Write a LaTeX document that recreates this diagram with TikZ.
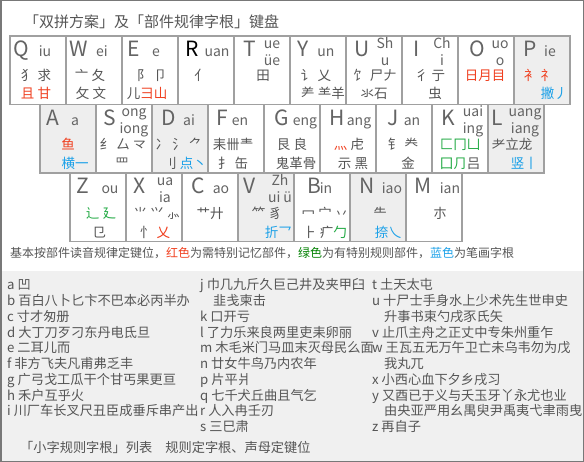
\documentclass[tikz,border=0pt]{standalone}
\usepackage{fontspec}
\setmainfont{Noto Sans CJK SC}
\usetikzlibrary{positioning}
\definecolor{kbInk}{RGB}{85,85,85}
\definecolor{kbLetter}{RGB}{100,100,100}
\definecolor{kbBorder}{RGB}{160,160,160}
\definecolor{kbShade}{RGB}{238,238,238}
\definecolor{kbRed}{RGB}{240,64,32}
\definecolor{kbGreen}{RGB}{34,170,68}
\definecolor{kbBlue}{RGB}{26,160,232}
\definecolor{kbDkGreen}{RGB}{0,128,0}
\definecolor{kbFrame}{RGB}{120,120,120}
\definecolor{kbPanel}{RGB}{240,240,240}

\begin{document}
\begin{tikzpicture}[x=1pt,y=-1pt,
    keybox/.style={draw=kbBorder, line width=1.3pt, minimum width=56pt,
                   minimum height=68.5pt, inner sep=0pt},
    keyletter/.style={anchor=base, inner sep=0pt, font=\fontsize{21}{21}\selectfont\color{kbLetter}},
    fin/.style={anchor=base, inner sep=0pt, font=\fontsize{14}{14}\selectfont\color{kbLetter}},
    comp/.style={anchor=base, inner sep=0pt, font=\fontsize{13.5}{13.5}\selectfont\color{kbInk}},
    lst/.style={anchor=base west, inner sep=0pt, font=\fontsize{13.2}{13.2}\selectfont\color{kbInk}},
    note/.style={anchor=base west, inner sep=0pt, font=\fontsize{12}{12}\selectfont\color{kbInk}}
  ]
  \useasboundingbox (0,0) rectangle (584,462);
  \fill[kbPanel] (0,271) rectangle (584,462);
  \draw[kbFrame, line width=1.5pt] (0.75,0.75) rectangle (583.25,461.25);

  \node[anchor=base west, inner sep=0pt, font=\fontsize{15}{15}\selectfont\color{kbInk}]
    (title) at (24,27.5) {「双拼方案」及「部件规律字根」键盘};

  % keys: name/left/top/fill/letter x/letter/final x/final base/final line 1/final line 2
  \foreach \n/\x/\y/\f/\lx/\l/\fx/\fy/\fa/\fb in {
      Q/10/36/white/11/Q/35/21/iu/{}, W/66/36/white/13/W/36/21/ei/{},
      E/122/36/white/12/E/34/21/e/{}, R/178/36/white/14/{\color{black}R}/39/21/uan/{},
      T/234/36/white/16/T/38/12.5/ue/üe, Y/290/36/white/13/Y/36/21/un/{},
      U/346/36/white/16/U/39/12.5/Sh/u, I/402/36/white/15/I/40/12.5/Ch/i,
      O/458/36/white/19/O/42/12.5/uo/o, P/514/36/kbShade/16/P/36/21/ie/{},
      A/40/104.5/kbShade/13/A/35/21/a/{}, S/96/104.5/white/14/S/38/12.5/ong/iong,
      D/152/104.5/kbShade/17/D/37/21/ai/{}, F/208/104.5/white/14/F/32/21/en/{},
      G/264/104.5/white/18/G/41/21/eng/{}, H/320/104.5/white/17/H/39/21/ang/{},
      J/376/104.5/white/17/J/36/21/an/{}, K/432/104.5/white/16/K/41/12.5/uai/ing,
      L/488/104.5/kbShade/9/L/37/12.5/uang/iang,
      Z/70/173/white/13/Z/40/21/ou/{}, X/126/173/white/14/X/39/12.5/ua/ia,
      C/182/173/white/16/C/39/21/ao/{}, V/238/173/kbShade/12/V/42/12.5/Zh/{ui ü},
      B/294/173/white/20/B/32/21/in/{}, N/350/173/kbShade/17/N/42/21/iao/{},
      M/406/173/white/17/M/44/21/ian/{}}{
    \node[keybox, fill=\f] (k\n) at (\x+28,\y+34.25) {};
    \node[keyletter] (c\n) at (\x+\lx,\y+21) {\l};
    \node[fin] (f\n) at (\x+\fx,\y+\fy) {\fa};
    \node[fin] (g\n) at (\x+\fx,\y+\fy+17) {\fb};
  }

  % row 1 roots
  \node[comp] (q1) at (36,81) {犭 求};
  \node[comp,color=kbRed] (q2) at (36,99) {且 甘};
  \node[comp] (w1) at (90,81) {亠 夂};
  \node[comp] (w2) at (91,99) {攵 文};
  \node[comp] (e1) at (152,81) {阝 卩};
  \node[comp] (e2) at (147,99) {儿\textcolor{kbRed}{彐山}};
  \node[comp] (r1) at (201,81) {亻};
  \node[comp] (t1) at (263,81) {田};
  \node[comp] (y1) at (316,81) {讠 乂};
  \node[comp] (y2) at (323,99) {⺶ ⺷羊};
  \node[comp] (u1) at (375,81) {饣 尸𠂇};
  \node[comp] (u2) at (374,99) {氺石};
  \node[comp] (i1) at (430,81) {彳 亍};
  \node[comp] (i2) at (435,99) {虫};
  \node[comp,color=kbRed] (o1) at (485,81) {日月目};
  \node[comp,color=kbRed] (p1) at (539,81) {衤 礻};
  \node[comp,color=kbBlue,anchor=base east] (p2) at (568,99) {撇丿};

  % row 2 roots
  \node[comp,color=kbRed] (a1) at (68,150) {鱼};
  \node[comp,color=kbBlue] (a2) at (75,169) {横一};
  \node[comp] (s1) at (123,150) {纟 厶 龴};
  \node[comp] (s2) at (122,169) {罒};
  \node[comp] (d1) at (179,150) {冫 氵 ⺈};
  \node[comp,anchor=base east] (d2) at (207,169) {刂 \textcolor{kbBlue}{点丶}};
  \node[comp] (f1) at (233,150) {耒卌龶};
  \node[comp] (f2) at (233,169) {扌 缶};
  \node[comp] (g1) at (292,150) {艮 良};
  \node[comp] (g2) at (296,169) {鬼革骨};
  \node[comp] (h1) at (349,150) {\textcolor{kbRed}{灬} 虍};
  \node[comp] (h2) at (353,169) {示 黑};
  \node[comp] (j1) at (403,150) {钅 龹};
  \node[comp] (j2) at (408,169) {金};
  \node[comp,color=kbGreen] (k1) at (460,150) {匚冂凵};
  \node[comp] (k2) at (460,169) {\textcolor{kbGreen}{囗⺆}吕};
  \node[comp] (l1) at (512,150) {耂立龙};
  \node[comp,color=kbBlue,anchor=base east] (l2) at (538,169) {竖丨};

  % row 3 roots
  \node[comp,color=kbGreen] (z1) at (101,219) {辶 廴};
  \node[comp] (z2) at (99,237.5) {㔾};
  \node[comp] (x1) at (157,219) {⺌ ⺍ ⺗};
  \node[comp] (x2) at (155,237.5) {忄 \textcolor{kbRed}{乂}};
  \node[comp] (c1) at (210,219) {艹廾};
  \node[comp] (v1) at (267,219) {⺮ 豸};
  \node[comp,color=kbBlue,anchor=base east] (v2) at (292,237.5) {折乛};
  \node[comp] (b1) at (325,219) {冖 宀 丷};
  \node[comp] (b2) at (325,237.5) {⺊ 疒\textcolor{kbGreen}{勹}};
  \node[comp] (n1) at (380,219) {⺧};
  \node[comp,color=kbBlue,anchor=base east] (n2) at (402,237.5) {捺乀};
  \node[comp] (m1) at (440,219) {朩};

  \node[note] (legend) at (10,257.5) {基本按部件读音规律定键位，\textcolor{kbRed}{红色}为需特别记忆部件，\textcolor{kbDkGreen}{绿色}为有特别规则部件，\textcolor{kbBlue}{蓝色}为笔画字根};

  % small-character roots list
  \node[lst] (la) at (7,290) {a 凹};
  \node[lst] (lb) at (7,305.75) {b 百白八卜匕卞不巴本必丙半办};
  \node[lst] (lc) at (7,321.5) {c 寸才匆册};
  \node[lst] (ld) at (7,337.25) {d 大丁刀歹刁东丹电氐旦};
  \node[lst] (le) at (7,353) {e 二耳儿而};
  \node[lst] (lf) at (7,368.75) {f 非方飞夫凡甫弗乏丰};
  \node[lst] (lg) at (7,384.5) {g 广弓戈工瓜干个甘丐果更亘};
  \node[lst] (lh) at (7,400.25) {h 禾户互乎火};
  \node[lst] (li) at (7,416) {i 川厂车长叉尺丑臣成垂斥串产出};

  \node[lst] (lj) at (200,290) {j 巾几九斤久巨己井及夹甲臼};
  \node[lst] (lj2) at (213,305.75) {韭戋柬击};
  \node[lst] (lk) at (200,321.5) {k 口开亏};
  \node[lst] (ll) at (200,337.25) {l 了力乐来良两里吏耒卵丽};
  \node[lst] (lm) at (200,353) {m 木毛米门马皿末灭母民么面};
  \node[lst] (ln) at (200,368.75) {n 廿女牛鸟乃内农年};
  \node[lst] (lp) at (200,384.5) {p 片平爿};
  \node[lst] (lq) at (200,400.25) {q 七千犬丘曲且气乞};
  \node[lst] (lr) at (200,416) {r 人入冉壬刃};
  \node[lst] (ls) at (200,431.75) {s 三巳肃};

  \node[lst] (lt) at (372,290) {t 土天太屯};
  \node[lst] (lu) at (372,305.75) {u 十尸士手身水上少术先生世申史};
  \node[lst] (lu2) at (384,321.5) {升事书束勺戌豕氏矢};
  \node[lst] (lv) at (372,337.25) {v 止爪主舟之正丈中专朱州重乍};
  \node[lst] (lw) at (372,353) {w 王瓦五无万午卫亡未乌韦勿为戊};
  \node[lst] (lw2) at (384,368.75) {我丸兀};
  \node[lst] (lx) at (372,384.5) {x 小西心血下夕乡戌习};
  \node[lst] (ly) at (372,400.25) {y 又酉已于义与夭玉牙丫永尤也业};
  \node[lst] (ly2) at (384,416) {由央亚严用幺禺臾尹禹夷弋聿雨曳};
  \node[lst] (lz) at (372,431.75) {z 再自子};

  \node[lst] (foot) at (20,453) {「小字规则字根」列表\quad 规则定字根、声母定键位};
\end{tikzpicture}
\end{document}
